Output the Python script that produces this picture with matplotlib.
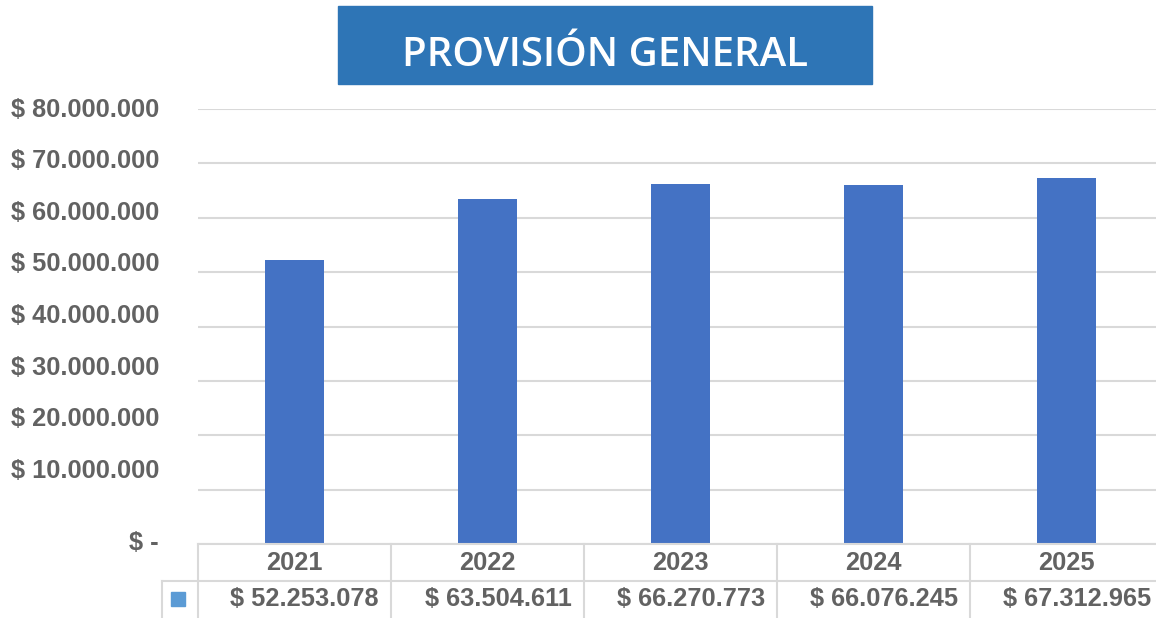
import matplotlib.pyplot as plt
from matplotlib.patches import Rectangle
from matplotlib.transforms import blended_transform_factory, ScaledTranslation

years = ['2021', '2022', '2023', '2024', '2025']
provision = [52253078, 63504611, 66270773, 66076245, 67312965]
ytick_values = [0, 10e6, 20e6, 30e6, 40e6, 50e6, 60e6, 70e6, 80e6]
ytick_labels = ['$ -', '$ 10.000.000', '$ 20.000.000', '$ 30.000.000', '$ 40.000.000',
                '$ 50.000.000', '$ 60.000.000', '$ 70.000.000', '$ 80.000.000']
value_labels = ['$ 52.253.078', '$ 63.504.611', '$ 66.270.773', '$ 66.076.245', '$ 67.312.965']

W, H = 1156, 618
txt_color = '#626262'
grid_color = '#d9d9d9'
fs = 18.3

fig = plt.figure(figsize=(W / 100, H / 100), dpi=100)
ax = fig.add_axes([198 / W, (H - 544) / H, 965 / W, 435 / H])

x = list(range(len(years)))
ax.bar(x, provision, width=0.31, color='#4472C4', zorder=2)
ax.set_xlim(-0.5, len(years) - 0.5)
ax.set_ylim(0, 80e6)

ax.set_yticks(ytick_values)
ax.set_yticklabels(ytick_labels, fontsize=fs, fontweight='bold', color=txt_color,
                   family='Liberation Sans')
ax.tick_params(axis='y', length=0, pad=28)
ax.set_xticks([])
ax.grid(axis='y', color=grid_color, lw=1.5, zorder=0)
for s in ax.spines.values():
    s.set_visible(False)

# the labels in the original sit a bit above their gridlines (more so lower down)
for v, lab in zip(ytick_values, ax.get_yticklabels()):
    n = v / 10e6
    dy = 3 if n == 0 else 24.2 - 2.8 * n
    lab.set_transform(lab.get_transform() + ScaledTranslation(0, dy / 100, fig.dpi_scale_trans))

# data table under the chart
tr = blended_transform_factory(ax.transData, ax.transAxes)
row1 = -37 / 435
row2 = -74 / 435
left_legend = -0.5 - 36 / 193
kw = dict(color=grid_color, lw=1.5, transform=tr, clip_on=False, zorder=3)
ax.plot([-0.5, len(years) - 0.5], [0, 0], **kw)
ax.plot([left_legend, len(years) - 0.5], [row1, row1], **kw)
ax.plot([left_legend, left_legend], [row1, row2], **kw)
for b in range(len(years) + 1):
    ax.plot([b - 0.5, b - 0.5], [0, row2], **kw)

for i in x:
    ax.text(i, row1 / 2, years[i], transform=tr, ha='center', va='center',
            fontsize=fs, fontweight='bold', color=txt_color, family='Liberation Sans')
    ax.text(i + 0.5 - 12 / 193, (row1 + row2) / 2, value_labels[i], transform=tr,
            ha='right', va='center', fontsize=fs, fontweight='bold', color=txt_color,
            family='Liberation Sans')

fig.patches.append(Rectangle((171 / W, (H - 606) / H), 14 / W, 14 / H,
                             transform=fig.transFigure, color='#5B9BD5'))

# title box
fig.patches.append(Rectangle((338 / W, (H - 84) / H), 534 / W, 78 / H,
                             transform=fig.transFigure, color='#2E75B6', zorder=0))
fig.text(605 / W, (H - 56) / H, 'PROVISIÓN GENERAL', ha='center', va='center',
         color='white', fontsize=29, fontweight='semibold', family='Open Sans')

fig.savefig('out.png', dpi=100)
